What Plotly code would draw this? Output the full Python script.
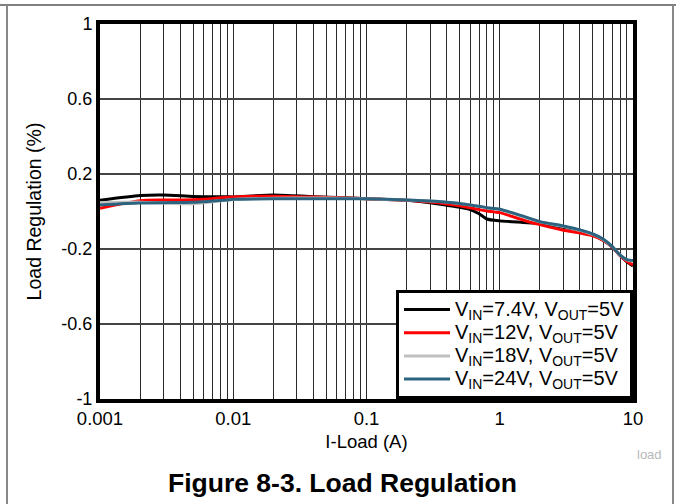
import plotly.graph_objects as go

# ---- data ----
i_load = [0.001, 0.002, 0.003, 0.005, 0.007, 0.009, 0.01, 0.02, 0.04, 0.07, 0.1,
          0.2, 0.3, 0.4, 0.5, 0.6, 0.7, 0.8, 1, 1.5, 2, 3, 4, 5, 6, 7, 8, 9, 10]

reg_7v4 = [0.060, 0.085, 0.088, 0.080, 0.079, 0.079, 0.078, 0.088, 0.079, 0.074, 0.068,
           0.060, 0.047, 0.033, 0.022, 0.010, -0.012, -0.040, -0.050, -0.058, -0.064,
           -0.084, -0.100, -0.125, -0.155, -0.190, -0.235, -0.268, -0.290]
reg_12v = [0.017, 0.058, 0.061, 0.063, 0.068, 0.076, 0.078, 0.082, 0.077, 0.072, 0.068,
           0.060, 0.050, 0.040, 0.030, 0.020, 0.010, 0.003, -0.006, -0.045, -0.070,
           -0.100, -0.115, -0.130, -0.155, -0.190, -0.235, -0.265, -0.285]
reg_18v = [0.047, 0.050, 0.045, 0.042, 0.052, 0.060, 0.064, 0.071, 0.072, 0.071, 0.068,
           0.061, 0.056, 0.050, 0.042, 0.035, 0.028, 0.020, 0.010, -0.028, -0.055,
           -0.080, -0.100, -0.122, -0.150, -0.188, -0.232, -0.258, -0.265]
reg_24v = [0.035, 0.045, 0.047, 0.049, 0.056, 0.062, 0.065, 0.068, 0.068, 0.068, 0.068,
           0.062, 0.056, 0.050, 0.043, 0.035, 0.028, 0.020, 0.012, -0.025, -0.054,
           -0.077, -0.098, -0.120, -0.148, -0.187, -0.232, -0.257, -0.262]

series_names = ["V<sub>IN</sub>=7.4V, V<sub>OUT</sub>=5V",
                "V<sub>IN</sub>=12V, V<sub>OUT</sub>=5V",
                "V<sub>IN</sub>=18V, V<sub>OUT</sub>=5V",
                "V<sub>IN</sub>=24V, V<sub>OUT</sub>=5V"]
series_colors = ["#000000", "#ff0000", "#c0c0c0", "#2c6480"]

x_tick_vals = [0.001, 0.01, 0.1, 1, 10]
x_tick_text = ["0.001", "0.01", "0.1", "1", "10"]
y_tick_vals = [1, 0.6, 0.2, -0.2, -0.6, -1]
y_tick_text = ["1", "0.6", "0.2", "-0.2", "-0.6", "-1"]

minor_vals = [m * d for d in [0.001, 0.01, 0.1, 1] for m in range(2, 10)]

FONT = "Liberation Sans, Arial, sans-serif"

fig = go.Figure()
data = [reg_7v4, reg_12v, reg_18v, reg_24v]
for k in range(4):
    fig.add_trace(go.Scatter(
        x=i_load, y=data[k], mode="lines",
        name='<span style="font-size:20px">' + series_names[k] + '</span>',
        line=dict(color=series_colors[k], width=3, shape="spline", smoothing=0.6)))

fig.update_layout(
    width=676, height=504,
    margin=dict(l=100, r=43, t=24, b=105),
    paper_bgcolor="white", plot_bgcolor="white",
    font=dict(family=FONT, size=18, color="#000"),
    showlegend=True,
    legend=dict(x=1, y=0, xanchor="right", yanchor="bottom",
                bgcolor="white", bordercolor="black", borderwidth=3,
                font=dict(size=15.5), itemwidth=46, tracegroupgap=0),
)

fig.update_xaxes(
    type="log", range=[-3, 1],
    tickmode="array", tickvals=x_tick_vals, ticktext=x_tick_text,
    showgrid=True, gridcolor="#2a2a2a", gridwidth=1,
    minor=dict(tickmode="array", tickvals=minor_vals, showgrid=True,
               gridcolor="#2a2a2a", gridwidth=1, ticks=""),
    ticks="", showline=True, linecolor="black", linewidth=4, mirror=True,
    tickfont=dict(size=18.5),
    title=dict(text="I-Load (A)", font=dict(size=18.5), standoff=8),
    zeroline=False,
)
fig.update_yaxes(
    range=[-1, 1],
    tickmode="array", tickvals=y_tick_vals, ticktext=y_tick_text,
    showgrid=True, gridcolor="#444444", gridwidth=1.5,
    ticks="", showline=True, linecolor="black", linewidth=4, mirror=True,
    tickfont=dict(size=18),
    title=dict(text="Load Regulation (%)", font=dict(size=19.5), standoff=16),
    zeroline=False,
)

# outer frame (page/table borders)
W0, X0 = 533.0, 100.0
H0, Y0 = 375.0, 399.0
def px(xp):
    return (xp - X0) / W0
def py(yp):
    return (Y0 - yp) / H0

fig.add_shape(type="line", xref="paper", yref="paper", x0=px(0), x1=px(676), y0=py(5), y1=py(5),
              line=dict(color="#555555", width=1.5))
fig.add_shape(type="line", xref="paper", yref="paper", x0=px(7), x1=px(7), y0=py(5), y1=py(504),
              line=dict(color="#888888", width=2))
fig.add_shape(type="line", xref="paper", yref="paper", x0=px(673), x1=px(673), y0=py(5), y1=py(504),
              line=dict(color="#888888", width=2))

fig.add_annotation(text="<b>Figure 8-3. Load Regulation</b>", xref="paper", yref="paper",
                   x=px(342), y=py(483), xanchor="center", yanchor="middle", showarrow=False,
                   font=dict(family=FONT, size=26.5, color="#000"))
fig.add_annotation(text="load", xref="paper", yref="paper",
                   x=px(649), y=py(454), xanchor="center", yanchor="middle", showarrow=False,
                   font=dict(family=FONT, size=13, color="#b8b8b8"))

fig.write_html("out.html", config={"displayModeBar": False},
               post_script="document.body.style.margin='0px';document.body.style.overflow='hidden';")
